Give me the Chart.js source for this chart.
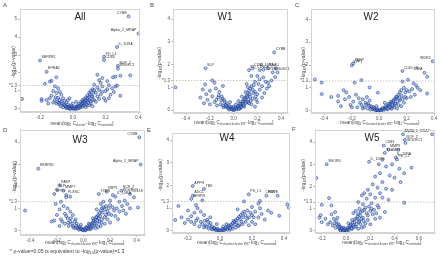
<!DOCTYPE html>
<html><head><meta charset="utf-8">
<script src="https://cdn.jsdelivr.net/npm/chart.js@4/dist/chart.umd.min.js"></script>
<style>
html,body{margin:0;padding:0;background:#fff;width:440px;height:261px;overflow:hidden;font-family:"Liberation Sans",Arial,sans-serif}
canvas{position:absolute}
.t{position:absolute;white-space:nowrap;color:#333;line-height:1}
.pl{font-size:6px;color:#444}
.tt{font-size:10px;color:#222;transform:translate(-50%,-50%)}
.xt{font-size:4.6px;color:#444;transform:translate(-50%,-50%)}
.yt{font-size:5px;color:#444;transform:translate(-50%,-50%) rotate(-90deg)}
.fn{font-size:5.2px;color:#444}
sub{font-size:70%;vertical-align:-1px;line-height:0}
</style></head>
<body>
<div id="wrap" style="position:relative;width:440px;height:261px"></div>
<script>
// ---------- tick values ----------
const xTicksA=[-0.2,0,0.2,0.4];
const xTicksBCD=[-0.4,-0.2,0,0.2,0.4];
const xTicksE=[-0.2,0,0.2,0.4];
const xTicksF=[-0.2,0,0.2,0.4,0.6];
const yTicksA=[0,1,1.3,2,3,4,5];
const yTicks=[0,1,1.3,2,3,4];
const sigLine=1.3;

// ---------- data: [mean log2 difference, -log10(p)] ----------
const ptsAll=[[0.34,5.15],[0.40,4.2],[0.27,3.45],[0.19,2.9],[0.19,2.72],[-0.20,2.7],[-0.16,2.07],[0.275,2.4],[0.275,2.25],
[0.29,1.85],[0.35,1.87],[0.245,1.76],[0.26,1.8],[0.15,1.9],[0.18,1.72],[0.16,1.6],[0.22,1.32],[0.26,1.25],[0.29,0.74],
[-0.10,1.76],[-0.13,1.57],[-0.14,1.52],[-0.17,1.4],[-0.11,1.26],[-0.09,1.15],[-0.31,0.56],[-0.19,0.55],[-0.19,0.45],
[-0.12,1.0],[-0.1,0.9],[-0.08,0.95],[-0.13,0.75],[-0.07,0.8],[-0.06,0.6],[-0.09,0.62],[-0.11,0.5],[-0.05,0.45],[-0.04,0.35],[-0.07,0.4],[-0.03,0.25],[-0.02,0.15],[-0.01,0.08],[0,0.03],[0.01,0.05],[-0.02,0.05],[0.02,0.12],[0.03,0.2],[0.04,0.3],[0.05,0.4],[0.06,0.5],[0.07,0.55],[0.08,0.65],[0.09,0.75],[0.1,0.9],[0.11,1.0],[0.12,1.1],[0.13,1.05],[0.1,0.5],[0.12,0.7],[0.14,0.9],[0.15,1.2],[0.16,1.05],[0.17,0.8],[0.18,1.25],[0.2,1.0],[0.21,1.1],[0.19,0.6],[0.14,0.4],[0.16,0.55],[0.08,0.3],[0.06,0.2],[0.09,0.45],[0.11,0.3],[0.13,0.5],[-0.05,0.2],[-0.08,0.25],[-0.1,0.3],[-0.12,0.35],[-0.15,0.3],[-0.14,0.6],[-0.16,0.5],[-0.06,0.1],[-0.04,0.1],[0.03,0.08],[0.05,0.15],[0.07,0.2],[0.24,1.15],[0.25,0.95],[0.23,0.8],[0.22,0.6],[0.2,0.45],[0.27,1.3],[0.21,1.55],[0.17,1.45],[0.13,1.35],[-0.03,0.5],[0.0,0.3],[0.02,0.4],[-0.01,0.2],[0.04,0.05],[0.06,0.35],[0.08,0.1],[0.1,0.2],[0.12,0.15],[0.15,0.7],[0.18,0.95],[-0.08,0.5],[-0.02,0.6],
[-0.04,0.05],[-0.03,0.12],[-0.02,0.02],[-0.01,0.1],[0.0,0.06],[0.005,0.0],[0.01,0.12],[0.015,0.02],[0.02,0.0],[0.025,0.08],[0.03,0.03],[0.035,0.14],[0.04,0.18],[0.045,0.1],[0.05,0.25],[0.055,0.3],[0.06,0.12],[0.065,0.4],[0.07,0.33],[0.075,0.45],[0.08,0.5],[0.085,0.22],[0.09,0.6],[0.095,0.35],[0.1,0.65],[0.105,0.8],[0.11,0.42],[0.115,0.7],[0.12,0.5],[0.125,0.9],[-0.015,0.0],[-0.025,0.03],[-0.035,0.07],[-0.045,0.15],[-0.055,0.25],[-0.065,0.3],[-0.075,0.15],[-0.085,0.35],[-0.095,0.4],[-0.105,0.65]];
const ptsW1=[[0.342,2.54],[-0.236,1.84],[0.356,1.84],[0.13,1.76],[0.16,1.84],[0.22,1.76],[0.29,1.84],[0.33,1.66],[0.37,1.66],[0.25,1.78],[0.15,1.5],[0.2,1.5],[0.25,1.44],[0.29,1.2],[0.27,1.25],[0.32,1.3],[0.35,1.45],[0.22,1.35],[0.18,1.25],
[-0.49,1.0],[-0.18,1.31],[-0.16,1.2],[-0.09,1.06],[-0.24,1.13],[-0.26,0.91],[-0.23,0.7],[-0.28,0.55],[-0.2,0.85],[-0.15,0.95],[-0.12,0.8],[-0.18,0.6],[-0.22,0.45],[-0.13,0.55],[-0.1,0.6],[-0.08,0.45],[-0.16,0.35],[-0.25,0.3],[-0.06,0.3],[-0.11,0.25],[-0.04,0.2],[-0.07,0.15],[-0.02,0.1],[-0.03,0.05],[-0.01,0.02],[0,0.0],[0.01,0.03],[0.02,0.06],[-0.05,0.1],[-0.09,0.2],[-0.14,0.2],[-0.2,0.25],
[0.03,0.1],[0.04,0.15],[0.05,0.2],[0.06,0.25],[0.07,0.3],[0.08,0.4],[0.09,0.5],[0.1,0.55],[0.11,0.65],[0.12,0.75],[0.13,0.85],[0.14,0.95],[0.15,1.05],[0.16,0.9],[0.17,1.1],[0.12,1.0],[0.1,0.8],[0.14,0.6],[0.16,0.5],[0.19,0.47],[0.2,0.7],[0.22,0.9],[0.24,1.05],[0.18,0.8],[0.26,0.75],[0.28,0.95],[0.3,1.05],[0.08,0.2],[0.06,0.1],[0.1,0.3],[0.12,0.35],[0.05,0.05],[0.04,0.4],[0.02,0.25],[0.09,0.15],[0.13,0.3],[0.15,0.25],[0.2,0.35],[0.11,1.15],[0.21,1.15],[0.24,0.55],[0.18,0.15],[0.07,0.6],[-0.03,0.35],[0.0,0.15],
[-0.045,0.08],[-0.035,0.02],[-0.025,0.14],[-0.015,0.05],[-0.005,0.09],[0.005,0.01],[0.015,0.1],[0.025,0.03],[0.035,0.18],[0.045,0.06],[0.055,0.28],[0.065,0.14],[0.075,0.38],[0.085,0.22],[0.095,0.45],[0.105,0.36],[0.115,0.58],[0.125,0.48],[0.135,0.7],[0.145,0.4],[-0.055,0.18],[-0.065,0.22],[-0.075,0.35],[-0.085,0.12],[-0.095,0.5],[-0.105,0.42],[-0.125,0.65],[-0.145,0.45],[0.165,0.75],[0.185,0.6]];
const ptsW2=[[0.39,2.16],[-0.2,1.99],[-0.19,2.07],[0.17,1.74],[0.33,1.66],[0.35,1.49],[-0.47,1.37],[-0.42,1.23],[-0.42,0.73],[-0.13,1.34],[-0.18,1.23],[0.27,1.1],[0.17,1.28],[0.21,1.35],[-0.21,0.25],
[-0.26,0.9],[-0.24,0.8],[-0.3,0.65],[-0.22,0.6],[-0.17,0.7],[-0.15,0.55],[-0.12,0.5],[-0.25,0.5],[-0.19,0.4],[-0.3,0.4],[-0.1,0.35],[-0.08,0.3],[-0.13,0.25],[-0.16,0.15],[-0.06,0.2],[-0.05,0.1],[-0.04,0.15],[-0.03,0.05],[-0.02,0.03],[-0.01,0.01],[0,0],[0.01,0.02],[0.02,0.05],[0.03,0.08],[0.04,0.1],[0.05,0.15],[0.06,0.2],[0.07,0.25],[0.08,0.3],[0.09,0.35],[0.1,0.4],[0.11,0.5],[0.12,0.55],[0.13,0.6],[0.14,0.7],[0.15,0.8],[0.16,0.9],[0.18,1.0],[0.2,0.9],[0.22,0.85],[0.24,0.95],[0.26,0.7],[0.19,0.6],[0.17,0.5],[0.15,0.45],[0.12,0.3],[0.1,0.2],[0.08,0.12],[0.06,0.05],[0.14,0.25],[0.18,0.35],[0.2,0.55],[0.23,0.6],[0.3,0.9],[0.35,0.75],[-0.02,0.2],[-0.07,0.45],[-0.09,0.6],[-0.11,0.15],[-0.01,0.79],[-0.07,1.02],[0.04,0.35],[0.09,0.08],[0.11,0.15],[0.13,0.1],[0.16,0.2],[-0.35,0.6],[-0.28,0.2],[0.25,1.2],[0.28,1.0],
[-0.045,0.05],[-0.035,0.1],[-0.025,0.02],[-0.015,0.07],[-0.005,0.0],[0.005,0.05],[0.015,0.0],[0.025,0.12],[0.035,0.04],[0.045,0.2],[0.055,0.1],[0.065,0.3],[0.075,0.15],[0.085,0.4],[0.095,0.25],[0.105,0.45],[0.115,0.3],[0.125,0.62],[0.135,0.42],[0.145,0.55],[-0.055,0.15],[-0.065,0.05],[-0.075,0.22],[-0.085,0.1],[-0.095,0.28],[-0.12,0.1],[-0.14,0.35],[-0.2,0.15],[0.165,0.65],[0.19,0.8]];
const ptsW3=[[0.42,4.22],[0.43,2.99],[-0.34,2.8],[-0.18,2.05],[-0.2,1.85],[-0.15,1.8],[-0.22,1.65],[-0.13,1.6],[-0.1,1.53],[-0.13,1.5],[-0.21,1.2],[-0.17,1.3],[-0.44,0.9],[0.115,1.65],[0.175,1.75],[0.24,1.53],[0.285,1.8],[0.35,1.65],[0.31,1.35],[0.41,1.04],[0.2,1.35],[0.15,1.3],[0.22,1.6],[0.27,1.3],[0.33,1.2],[0.38,1.5],
[-0.15,1.1],[-0.12,1.0],[-0.18,0.95],[-0.1,0.85],[-0.14,0.75],[-0.2,0.7],[-0.08,0.7],[-0.12,0.55],[-0.17,0.5],[-0.22,0.45],[-0.06,0.5],[-0.1,0.4],[-0.14,0.3],[-0.24,0.4],[-0.05,0.3],[-0.08,0.2],[-0.04,0.15],[-0.03,0.1],[-0.02,0.05],[-0.01,0.03],[0,0],[-0.11,0.2],[-0.18,0.2],[-0.06,0.1],
[0.01,0.02],[0.02,0.05],[0.03,0.1],[0.04,0.15],[0.05,0.2],[0.06,0.3],[0.07,0.35],[0.08,0.45],[0.09,0.5],[0.1,0.6],[0.11,0.7],[0.12,0.8],[0.13,0.9],[0.14,1.0],[0.15,1.05],[0.16,0.95],[0.17,1.1],[0.18,0.85],[0.19,1.0],[0.2,1.15],[0.22,1.05],[0.23,0.9],[0.25,1.0],[0.27,0.85],[0.29,1.1],[0.3,0.9],[0.12,0.4],[0.14,0.5],[0.16,0.6],[0.1,0.3],[0.08,0.2],[0.06,0.1],[0.18,0.5],[0.21,0.7],[0.24,0.65],[0.2,0.35],[0.13,0.2],[0.09,0.1],[0.05,0.05],[0.11,0.15],[0.16,0.3],[0.26,0.5],[0.32,0.75],[0.04,0.3],[0.02,0.15],[-0.02,0.25],[0.07,0.55],[0.1,0.95],[0.13,1.2],[0.35,1.0],
[-0.045,0.1],[-0.035,0.03],[-0.025,0.15],[-0.015,0.08],[-0.005,0.02],[0.005,0.08],[0.015,0.0],[0.025,0.13],[0.035,0.05],[0.045,0.25],[0.055,0.12],[0.065,0.22],[0.075,0.42],[0.085,0.3],[0.095,0.6],[0.105,0.45],[0.115,0.55],[0.125,0.65],[0.135,0.35],[0.145,0.8],[-0.055,0.2],[-0.065,0.4],[-0.075,0.12],[-0.085,0.3],[-0.095,0.55],[-0.115,0.35],[-0.13,0.65],[-0.16,0.4],[0.17,0.7],[0.19,0.75]];
const ptsW4=[[-0.17,1.98],[-0.10,1.85],[-0.17,1.55],[-0.18,1.41],[-0.11,1.35],[-0.26,1.1],[-0.15,1.14],[-0.14,1.0],[0.18,1.61],[0.29,1.55],[0.36,1.55],[0.42,1.17],[0.43,1.03],[0.37,0.67],[0.15,1.3],[0.25,1.32],[0.24,1.2],[0.2,1.05],[-0.28,0.48],
[-0.2,0.9],[-0.16,0.8],[-0.12,0.85],[-0.18,0.65],[-0.1,0.7],[-0.14,0.55],[-0.2,0.5],[-0.22,0.35],[-0.08,0.5],[-0.12,0.4],[-0.16,0.3],[-0.06,0.35],[-0.09,0.25],[-0.05,0.2],[-0.04,0.12],[-0.03,0.08],[-0.02,0.05],[-0.01,0.02],[0,0],[0.01,0.02],[0.02,0.05],[0.03,0.08],[0.04,0.12],[0.05,0.18],[0.06,0.22],[0.07,0.28],[0.08,0.35],[0.09,0.4],[0.1,0.48],[0.11,0.55],[0.12,0.62],[0.13,0.7],[0.14,0.78],[0.15,0.85],[0.16,0.7],[0.17,0.9],[0.18,0.6],[0.19,0.8],[0.2,0.7],[0.22,0.85],[0.24,0.6],[0.26,0.75],[0.28,0.5],[0.3,0.9],[0.16,0.4],[0.14,0.3],[0.12,0.25],[0.1,0.15],[0.08,0.1],[0.06,0.05],[0.2,0.4],[0.22,0.3],[0.18,0.25],[-0.07,0.1],[-0.1,0.15],[-0.13,0.2],[-0.24,0.6],[-0.06,0.6],[0.04,0.3],[0.02,0.2],[-0.02,0.3],[0.11,0.95],[0.25,1.0],[0.32,0.8],
[-0.045,0.06],[-0.035,0.14],[-0.025,0.02],[-0.015,0.1],[-0.005,0.04],[0.005,0.0],[0.015,0.09],[0.025,0.02],[0.035,0.15],[0.045,0.06],[0.055,0.25],[0.065,0.12],[0.075,0.2],[0.085,0.45],[0.095,0.28],[0.105,0.36],[0.115,0.22],[0.125,0.5],[0.135,0.4],[0.145,0.6],[-0.055,0.1],[-0.065,0.25],[-0.075,0.4],[-0.085,0.18],[-0.095,0.45],[-0.11,0.3],[-0.15,0.45],[-0.18,0.4],[0.17,0.55],[0.21,0.6]];
const ptsW5=[[0.47,4.35],[0.71,4.35],[0.485,4.1],[0.49,3.96],[0.31,3.84],[0.35,3.66],[0.32,3.51],[0.43,3.65],[0.41,3.3],[0.42,3.22],[0.19,3.11],[-0.16,3.0],[-0.245,2.38],[0.48,1.27],[-0.14,1.48],[-0.12,1.15],[-0.2,1.18],[-0.21,0.71],[-0.22,0.6],[-0.2,0.4],
[0.3,3.2],[0.27,3.0],[0.33,2.9],[0.38,3.0],[0.44,2.8],[0.54,2.85],[0.48,2.6],[0.36,2.5],[0.28,2.6],[0.24,2.45],[0.4,2.4],[0.45,2.2],[0.3,2.2],[0.22,2.1],[0.26,1.95],[0.33,1.9],[0.38,1.85],[0.18,1.85],[0.2,1.65],[0.15,1.7],[0.28,1.7],[0.24,1.5],[0.17,1.45],[0.13,1.6],[0.1,1.3],[0.21,1.25],[0.3,1.5],[0.35,1.4],[0.14,1.2],[0.19,1.1],[0.26,1.15],[0.11,1.0],
[0.08,0.9],[0.06,0.8],[0.1,0.75],[0.12,0.85],[0.15,0.95],[0.17,0.8],[0.2,0.9],[0.22,0.75],[0.25,0.8],[0.14,0.6],[0.09,0.55],[0.05,0.5],[0.07,0.4],[0.11,0.45],[0.04,0.3],[0.03,0.2],[0.02,0.12],[0.01,0.06],[0,0.02],[-0.01,0.01],[-0.02,0.03],[-0.03,0.08],[-0.04,0.12],[-0.05,0.2],[-0.06,0.3],[-0.08,0.45],[-0.1,0.55],[-0.07,0.6],[-0.12,0.75],[-0.09,0.85],[-0.13,0.4],[-0.15,0.3],[-0.17,0.55],[-0.11,0.25],[-0.05,0.05],[0.05,0.1],[0.08,0.2],[0.12,0.3],[0.16,0.35],[0.18,0.5],[0.13,0.15],[0.06,0.25],[-0.02,0.15],[0.02,0.35],[0.28,0.6],[0.32,0.85],[0.2,0.3],[0.24,0.55],[0.1,0.1],[0.15,0.2],
[-0.045,0.02],[-0.035,0.15],[-0.025,0.0],[-0.015,0.06],[-0.005,0.1],[0.005,0.0],[0.015,0.15],[0.025,0.05],[0.035,0.25],[0.045,0.12],[0.055,0.38],[0.065,0.18],[0.075,0.55],[0.085,0.3],[0.095,0.65],[0.105,0.4],[0.115,0.7],[0.125,0.55],[0.135,0.9],[0.145,0.45],[-0.055,0.12],[-0.065,0.2],[-0.075,0.3],[-0.085,0.15],[-0.095,0.35],[0.16,1.05],[0.18,0.7],[0.21,1.0],[0.23,0.95],[0.27,1.05]];

// ---------- gene labels: [name, x, y] ----------
const labAll=[["CYBB",0.34,5.15],["Alpha_2_MRAP",0.40,4.2],["IL_10RA",0.27,3.45],["PD_L1",0.19,2.9],["CD83",0.19,2.72],["SERPB1",-0.20,2.7],["EPHA2",-0.16,2.07],["NCF_2",0.275,2.4],["SIGLEC1",0.275,2.25]];
const labW1=[["CYBB",0.342,2.54],["SLP",-0.236,1.84],["IL_10RA",0.356,1.84],["PD_L1",0.13,1.76],["CD83",0.16,1.84],["NCF_2",0.22,1.76],["PLAU",0.29,1.84],["SIGLEC1",0.33,1.66],["CCL18",0.37,1.66]];
const labW2=[["SPP1",-0.2,1.99],["PAEP",-0.19,2.07],["WDR5",0.39,2.16],["CLEC_B",0.17,1.74],["TNFA",0.33,1.66]];
const labW3=[["CYBB",0.42,4.22],["Alpha_2_MRAP",0.43,2.99],["SERPB1",-0.34,2.8],["PAEP",-0.18,2.05],["SLP",-0.2,1.85],["MMP7",-0.15,1.8],["SPP1",-0.22,1.65],["PLXNC",-0.13,1.6],["TXNR",0.115,1.65],["NRP1",0.175,1.75],["IL_10RA",0.24,1.53],["NCF_2",0.285,1.8],["SIGLEC1",0.285,1.68],["CCL18",0.35,1.65]];
const labW4=[["APPH",-0.17,1.98],["TBX",-0.10,1.85],["ADCL",-0.17,1.55],["SERPB",-0.18,1.41],["PD_L1",0.18,1.61],["HOPE",0.29,1.55],["CRM1",0.36,1.55]];
const labW5=[["CYBB",0.47,4.35],["Alpha_2_MRAP",0.71,4.35],["NCF_2",0.485,4.1],["SIGLEC1",0.49,3.96],["CD83",0.31,3.84],["MMP9",0.35,3.66],["SLAMF7",0.32,3.51],["IL_10RA",0.41,3.3],["PD_L2",0.42,3.22],["IL_10RB",0.19,3.11],["SNORD",-0.16,3.0]];

const boxPlugin={id:'box',afterDraw(c){const a=c.chartArea,g=c.ctx;g.save();g.strokeStyle='#d4d4d4';g.lineWidth=1;g.strokeRect(Math.round(a.left)+0.5,Math.round(a.top)+0.5,Math.round(a.right-a.left)-1,Math.round(a.bottom-a.top)-1);g.restore();}};
const labelPlugin={id:'labs',afterDatasetsDraw(c,args,opts){const g=c.ctx,xs=c.scales.x,ys=c.scales.y,a=c.chartArea;g.save();g.font='3.6px "Liberation Sans", Arial';g.fillStyle='#333';g.textBaseline='bottom';
 (opts.labels||[]).forEach(l=>{const px=xs.getPixelForValue(l[1]),py=ys.getPixelForValue(l[2]);
  if(px>a.right-14){g.textAlign='right';g.fillText(l[0],px-2,py-1.5);}else{g.textAlign='left';g.fillText(l[0],px+1.5,py-1.5);}});g.restore();}};

function panel(o){
 const cv=document.createElement('canvas');cv.width=o.w;cv.height=o.h;cv.style.left=o.left+'px';cv.style.top=o.top+'px';
 document.getElementById('wrap').appendChild(cv);
 new Chart(cv,{type:'scatter',data:{datasets:[
  {type:'line',data:[{x:o.xmin,y:sigLine},{x:o.xmax,y:sigLine}],borderColor:'#b8b8b8',borderWidth:0.8,borderDash:[1.5,1.5],pointRadius:0,order:2},
  {data:o.pts.map(p=>({x:p[0],y:p[1]})),pointRadius:1.5,backgroundColor:'rgba(110,145,210,0.45)',borderColor:'rgba(20,55,145,0.9)',borderWidth:0.6,order:1}
 ]},options:{responsive:false,animation:false,devicePixelRatio:1,events:[],
  layout:{padding:{left:0,top:o.at-o.top,right:o.left+o.w-o.ar,bottom:0}},
  plugins:{legend:{display:false},tooltip:{enabled:false},labs:{labels:o.labs}},
  scales:{
   x:{type:'linear',min:o.xmin,max:o.xmax,afterBuildTicks:s=>{s.ticks=o.xt.map(v=>({value:v}));},afterFit:s=>{s.height=o.top+o.h-o.ab;},
      ticks:{font:{size:4.5,family:'"Liberation Sans", Arial'},color:'#555',padding:1,maxRotation:0,autoSkip:false,callback:v=>v.toFixed(1)},
      grid:{drawOnChartArea:false,tickLength:2,color:'#bbb'},border:{color:'#d4d4d4'}},
   y:{type:'linear',min:o.ymin,max:o.ymax,afterBuildTicks:s=>{s.ticks=o.yt.map(v=>({value:v}));},afterFit:s=>{s.width=o.al-o.left;},
      ticks:{font:{size:4.5,family:'"Liberation Sans", Arial'},color:'#555',padding:1,autoSkip:false,callback:v=>v===1.3?'*1.3':String(v)},
      grid:{drawOnChartArea:false,tickLength:2,color:'#bbb'},border:{color:'#d4d4d4'}}
  }},plugins:[boxPlugin,labelPlugin]});
}

panel({left:0,top:0,w:145,h:127,al:20,ar:143,at:9,ab:112,xmin:-0.322,xmax:0.412,ymin:-0.17,ymax:5.56,xt:xTicksA,yt:yTicksA,pts:ptsAll,labs:labAll});
panel({left:145,top:0,w:148,h:127,al:173,ar:291,at:9,ab:113,xmin:-0.511,xmax:0.462,ymin:-0.13,ymax:4.45,xt:xTicksBCD,yt:yTicks,pts:ptsW1,labs:labW1});
panel({left:293,top:0,w:147,h:127,al:311,ar:437,at:9,ab:113,xmin:-0.498,xmax:0.41,ymin:-0.1,ymax:4.45,xt:xTicksBCD,yt:yTicks,pts:ptsW2,labs:labW2});
panel({left:0,top:125,w:150,h:124,al:20,ar:147,at:128,ab:235,xmin:-0.478,xmax:0.466,ymin:-0.21,ymax:4.57,xt:xTicksBCD,yt:yTicks,pts:ptsW3,labs:labW3});
panel({left:150,top:125,w:145,h:124,al:172,ar:293,at:133,ab:233,xmin:-0.30,xmax:0.44,ymin:-0.09,ymax:4.31,xt:xTicksE,yt:yTicks,pts:ptsW4,labs:labW4});
panel({left:295,top:125,w:145,h:124,al:315,ar:438,at:128,ab:233,xmin:-0.256,xmax:0.737,ymin:-0.09,ymax:4.56,xt:xTicksF,yt:yTicks,pts:ptsW5,labs:labW5});

// ---------- text overlays ----------
const texts=[
 ['pl',3,2,'A'],['pl',150,2,'B'],['pl',295,2,'C'],['pl',3,127,'D'],['pl',147,127,'E'],['pl',292,126,'F'],
 ['tt',80,16.5,'All'],['tt',225,16.5,'W1'],['tt',371,16.5,'W2'],['tt',80,140,'W3'],['tt',227,138,'W4'],['tt',372,138,'W5'],
 ['xt',82,124,'mean(log<sub>2</sub> C<sub>cluster</sub>- log<sub>2</sub> C<sub>controls</sub>)'],
 ['xt',234,123,'mean(log<sub>2</sub> C<sub>cluster/cluster W1</sub>- log<sub>2</sub> C<sub>controls</sub>)'],
 ['xt',380,123,'mean(log<sub>2</sub> C<sub>cluster/cluster W2</sub>- log<sub>2</sub> C<sub>controls</sub>)'],
 ['xt',85,243,'mean(log<sub>2</sub> C<sub>cluster/cluster W3</sub>- log<sub>2</sub> C<sub>controls</sub>)'],
 ['xt',237,243,'mean(log<sub>2</sub> C<sub>cluster/cluster W4</sub>- log<sub>2</sub> C<sub>controls</sub>)'],
 ['xt',382,243,'mean(log<sub>2</sub> C<sub>cluster/cluster W5</sub>- log<sub>2</sub> C<sub>controls</sub>)'],
 ['yt',13,62,'-log<sub>10</sub>(p-value)'],['yt',159,63,'-log<sub>10</sub>(p-value)'],['yt',303,63,'-log<sub>10</sub>(p-value)'],
 ['yt',14,177,'-log<sub>10</sub>(p-value)'],['yt',160,175,'-log<sub>10</sub>(p-value)'],['yt',303,175,'-log<sub>10</sub>(p-value)'],
 ['fn',10,249,'* p-value=0.05 is equivalent to -log<sub>10</sub>(p-value)=1.3']
];
const wrap=document.getElementById('wrap');
texts.forEach(t=>{const d=document.createElement('div');d.className='t '+t[0];d.style.left=t[1]+'px';d.style.top=t[2]+'px';d.innerHTML=t[3];wrap.appendChild(d);});
</script>
</body></html>
